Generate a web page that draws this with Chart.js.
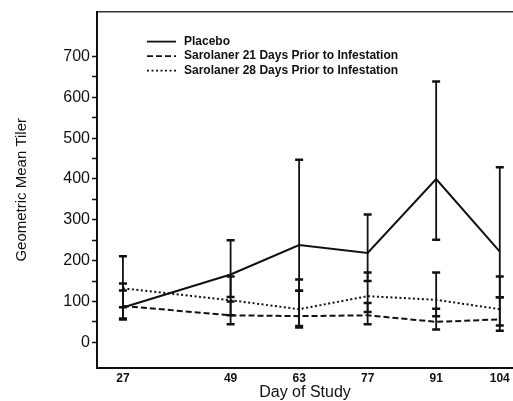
<!DOCTYPE html>
<html>
<head>
<meta charset="utf-8">
<script src="https://cdn.jsdelivr.net/npm/chart.js@4/dist/chart.umd.min.js"></script>
<style>
  html, body { margin: 0; padding: 0; background: #fff; }
  #wrap { width: 513px; height: 401px; position: relative; }
</style>
</head>
<body>
<div id="wrap"><canvas id="c" width="513" height="401"></canvas></div>
<script>
// ---- data ----
const days = [27, 49, 63, 77, 91, 104];
const seriesNames = ["Placebo", "Sarolaner 21 Days Prior to Infestation", "Sarolaner 28 Days Prior to Infestation"];
const placebo     = [85, 166, 238, 219, 400, 222];
const placeboLow  = [58, 111, 126, 150, 251, 110];
const placeboHigh = [211, 250, 447, 313, 639, 429];
const sar21       = [89, 66, 64, 66, 50, 56];
const sar21Low    = [56, 44, 36, 44, 31, 28];
const sar21High   = [127, 100, 126, 96, 82, 110];
const sar28       = [132, 103, 81, 113, 104, 81];
const sar28Low    = [86, 66, 40, 74, 64, 41];
const sar28High   = [144, 161, 154, 171, 171, 161];
const yTickValues = [0, 50, 100, 150, 200, 250, 300, 350, 400, 450, 500, 550, 600, 650, 700];

const INK = '#111';
const FONT = "'Liberation Sans', Arial, sans-serif";

function pts(vals) { return days.map((d, i) => ({ x: d, y: vals[i] })); }

const errorBars = {
  id: 'errorBars',
  afterDatasetsDraw(chart) {
    const ctx = chart.ctx, xs = chart.scales.x, ys = chart.scales.y;
    ctx.save();
    ctx.strokeStyle = INK;
    chart.data.datasets.forEach(ds => {
      ds.errLow.forEach((lo, i) => {
        const hi = ds.errHigh[i];
        const px = xs.getPixelForValue(days[i]);
        const pl = ys.getPixelForValue(lo), ph = ys.getPixelForValue(hi);
        ctx.lineWidth = 1.8;
        ctx.beginPath(); ctx.moveTo(px, pl); ctx.lineTo(px, ph); ctx.stroke();
        ctx.lineWidth = 2.5;
        ctx.beginPath();
        ctx.moveTo(px - 4, pl); ctx.lineTo(px + 4, pl);
        ctx.moveTo(px - 4, ph); ctx.lineTo(px + 4, ph);
        ctx.stroke();
      });
    });
    ctx.restore();
  }
};

const innerLegend = {
  id: 'innerLegend',
  afterDraw(chart) {
    const ctx = chart.ctx, a = chart.chartArea;
    ctx.save();
    chart.data.datasets.forEach((ds, i) => {
      const y = a.top + 30 + i * 14.5;
      const x0 = a.left + 50;
      ctx.strokeStyle = INK;
      ctx.lineWidth = 1.8;
      ctx.setLineDash(ds.borderDash || []);
      ctx.beginPath(); ctx.moveTo(x0, y); ctx.lineTo(x0 + 29, y); ctx.stroke();
      ctx.setLineDash([]);
      ctx.fillStyle = INK;
      ctx.font = "bold 12px " + FONT;
      ctx.textBaseline = 'middle';
      ctx.textAlign = 'left';
      ctx.fillText(ds.label, x0 + 37, y);
    });
    ctx.restore();
  }
};

new Chart(document.getElementById('c'), {
  type: 'line',
  data: {
    datasets: [
      { label: seriesNames[0], data: pts(placebo), errLow: placeboLow, errHigh: placeboHigh,
        borderColor: INK, borderWidth: 2, pointRadius: 0, tension: 0, fill: false },
      { label: seriesNames[1], data: pts(sar21), errLow: sar21Low, errHigh: sar21High,
        borderColor: INK, borderWidth: 2, borderDash: [6, 3], pointRadius: 0, tension: 0, fill: false },
      { label: seriesNames[2], data: pts(sar28), errLow: sar28Low, errHigh: sar28High,
        borderColor: INK, borderWidth: 2, borderDash: [2, 2.5], pointRadius: 0, tension: 0, fill: false }
    ]
  },
  options: {
    responsive: false,
    animation: false,
    layout: { padding: { top: 10, right: 0, left: 0, bottom: 0 } },
    plugins: { legend: { display: false }, tooltip: { enabled: false } },
    scales: {
      x: {
        type: 'linear', position: 'bottom', min: 21.7, max: 106.7,
        afterBuildTicks: s => { s.ticks = days.map(v => ({ value: v })); },
        afterFit: s => { s.height = 33; },
        grid: { display: false, drawTicks: false },
        border: { display: true, color: INK, width: 2 },
        ticks: { color: INK, font: { family: FONT, size: 12, weight: 'bold' }, padding: 3, maxRotation: 0, autoSkip: false },
        title: { display: true, text: 'Day of Study', color: INK, font: { family: FONT, size: 16, lineHeight: 1 }, padding: { top: 0, bottom: 0 } }
      },
      xTop: {
        type: 'linear', position: 'top', min: 21.7, max: 106.7,
        afterFit: s => { s.height = 0; },
        grid: { display: false, drawTicks: false },
        border: { display: true, color: '#333', width: 1.5 },
        ticks: { display: false }
      },
      y: {
        type: 'linear', min: -63, max: 810,
        afterBuildTicks: s => { s.ticks = yTickValues.map(v => ({ value: v })); },
        afterFit: s => { s.width = 97; },
        grid: { display: true, drawOnChartArea: false, drawTicks: true, tickLength: 5, tickColor: INK, tickWidth: 1.5 },
        border: { display: true, color: INK, width: 2 },
        ticks: { color: INK, font: { family: FONT, size: 16 }, padding: 2,
                 callback: v => (v % 100 === 0 ? String(v) : '') },
        title: { display: true, text: 'Geometric Mean Tiler', color: INK, font: { family: FONT, size: 15 }, padding: { top: 13, bottom: 0 } }
      }
    }
  },
  plugins: [errorBars, innerLegend]
});
</script>
</body>
</html>
